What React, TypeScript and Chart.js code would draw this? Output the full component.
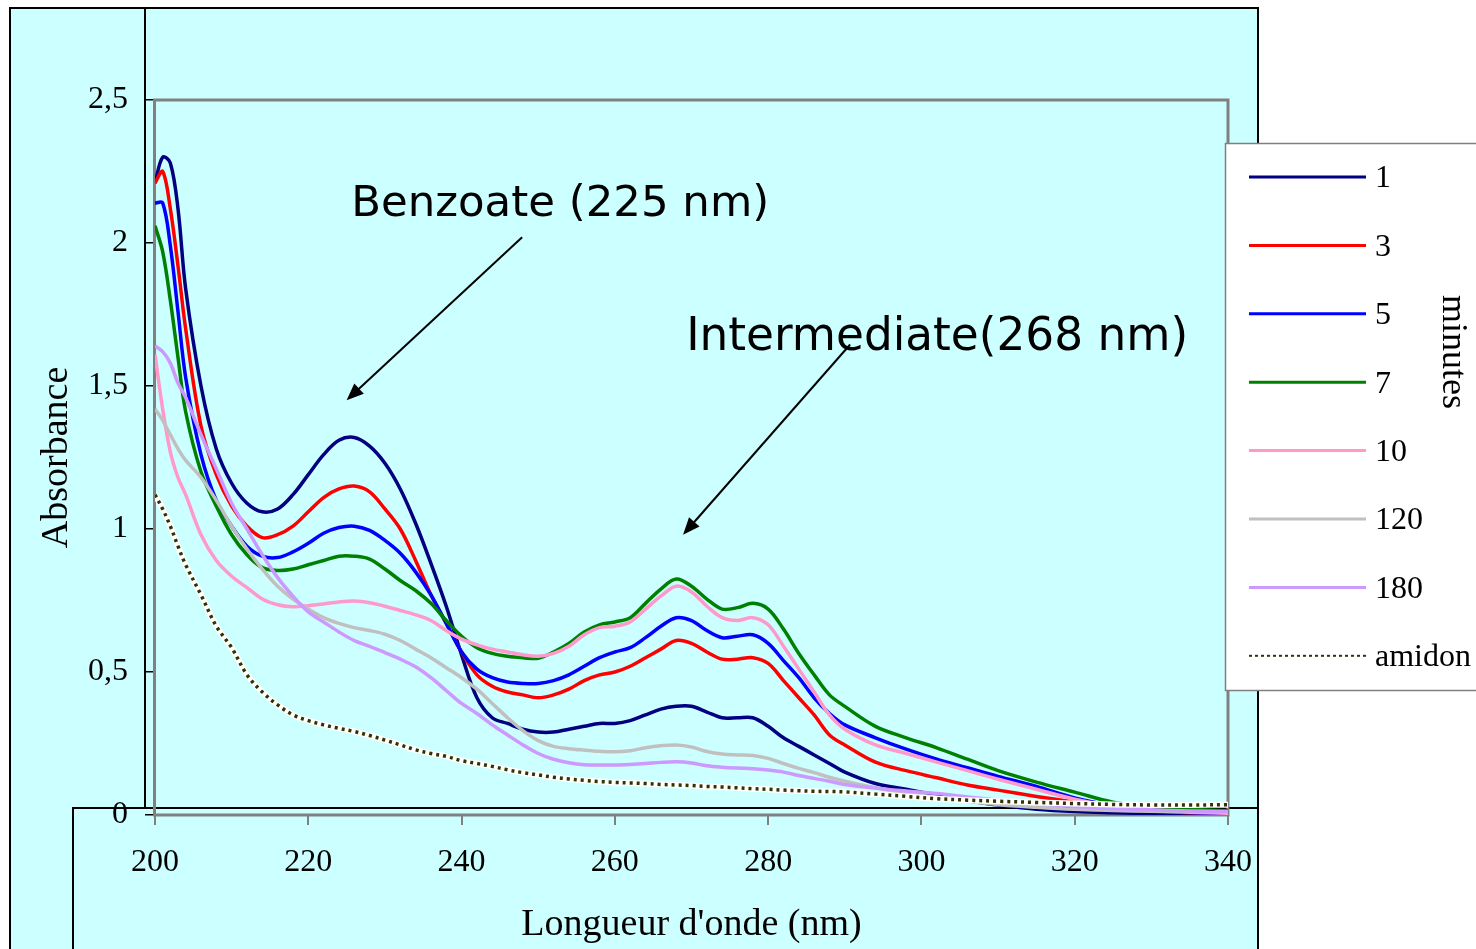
import React, { useEffect, useRef } from 'react';
import { Chart, registerables } from 'chart.js';

Chart.register(...registerables);

// ---------- data ----------
const wavelengths = [200, 201, 202, 203, 204, 206, 208, 210, 212, 214, 216, 218, 220, 222, 224, 226, 228, 230, 232, 234, 236, 238, 240, 242, 244, 246, 248, 250, 252, 254, 256, 258, 260, 262, 264, 266, 268, 270, 272, 274, 276, 278, 280, 282, 284, 286, 288, 290, 294, 298, 302, 306, 310, 315, 320, 325, 330, 335, 340];

const min1 = [2.21, 2.30, 2.28, 2.12, 1.84, 1.50, 1.28, 1.16, 1.09, 1.06, 1.07, 1.12, 1.19, 1.26, 1.31, 1.32, 1.29, 1.23, 1.14, 1.02, 0.88, 0.73, 0.56, 0.41, 0.34, 0.32, 0.30, 0.29, 0.29, 0.30, 0.31, 0.32, 0.32, 0.33, 0.35, 0.37, 0.38, 0.38, 0.36, 0.34, 0.34, 0.34, 0.31, 0.27, 0.24, 0.21, 0.18, 0.15, 0.11, 0.09, 0.07, 0.05, 0.035, 0.02, 0.012, 0.008, 0.005, 0.003, 0.002];
const min3 = [2.21, 2.25, 2.12, 1.92, 1.70, 1.36, 1.19, 1.08, 1.01, 0.97, 0.98, 1.01, 1.06, 1.11, 1.14, 1.15, 1.13, 1.07, 1.00, 0.89, 0.77, 0.67, 0.57, 0.49, 0.45, 0.43, 0.42, 0.41, 0.42, 0.44, 0.47, 0.49, 0.50, 0.52, 0.55, 0.58, 0.61, 0.60, 0.57, 0.545, 0.545, 0.55, 0.53, 0.47, 0.41, 0.35, 0.28, 0.245, 0.185, 0.155, 0.13, 0.105, 0.087, 0.065, 0.045, 0.025, 0.014, 0.008, 0.006];
const min5 = [2.14, 2.14, 1.99, 1.76, 1.53, 1.26, 1.10, 1.01, 0.94, 0.905, 0.90, 0.92, 0.95, 0.985, 1.005, 1.01, 0.995, 0.96, 0.915, 0.85, 0.77, 0.67, 0.57, 0.51, 0.48, 0.465, 0.46, 0.46, 0.47, 0.49, 0.52, 0.55, 0.57, 0.585, 0.62, 0.66, 0.69, 0.68, 0.645, 0.62, 0.625, 0.63, 0.60, 0.54, 0.48, 0.41, 0.355, 0.315, 0.27, 0.23, 0.195, 0.165, 0.135, 0.10, 0.06, 0.033, 0.016, 0.009, 0.005];
const min7 = [2.06, 1.97, 1.80, 1.60, 1.41, 1.20, 1.08, 0.98, 0.91, 0.865, 0.855, 0.86, 0.875, 0.89, 0.905, 0.905, 0.895, 0.86, 0.82, 0.785, 0.74, 0.68, 0.625, 0.585, 0.565, 0.555, 0.55, 0.548, 0.57, 0.60, 0.64, 0.665, 0.675, 0.69, 0.74, 0.79, 0.825, 0.80, 0.755, 0.72, 0.725, 0.74, 0.72, 0.65, 0.565, 0.49, 0.42, 0.38, 0.31, 0.27, 0.235, 0.195, 0.155, 0.115, 0.08, 0.045, 0.03, 0.02, 0.015];
const min10 = [1.61, 1.42, 1.27, 1.18, 1.12, 0.98, 0.89, 0.835, 0.795, 0.755, 0.735, 0.728, 0.732, 0.738, 0.745, 0.748, 0.742, 0.73, 0.715, 0.70, 0.68, 0.645, 0.615, 0.595, 0.58, 0.57, 0.56, 0.555, 0.565, 0.59, 0.63, 0.655, 0.66, 0.675, 0.72, 0.765, 0.80, 0.78, 0.73, 0.69, 0.68, 0.69, 0.665, 0.59, 0.51, 0.43, 0.35, 0.30, 0.245, 0.215, 0.185, 0.155, 0.125, 0.09, 0.055, 0.03, 0.016, 0.01, 0.006];
const min120 = [1.42, 1.38, 1.33, 1.28, 1.24, 1.18, 1.10, 1.01, 0.93, 0.86, 0.80, 0.755, 0.72, 0.69, 0.67, 0.655, 0.645, 0.632, 0.61, 0.58, 0.55, 0.515, 0.48, 0.44, 0.39, 0.34, 0.295, 0.26, 0.24, 0.232, 0.227, 0.223, 0.221, 0.225, 0.235, 0.242, 0.245, 0.238, 0.222, 0.213, 0.21, 0.208, 0.198, 0.18, 0.163, 0.148, 0.132, 0.118, 0.095, 0.076, 0.062, 0.048, 0.036, 0.027, 0.02, 0.016, 0.013, 0.011, 0.01];
const min180 = [1.64, 1.62, 1.58, 1.51, 1.46, 1.33, 1.21, 1.09, 1.00, 0.91, 0.83, 0.765, 0.71, 0.675, 0.64, 0.61, 0.59, 0.568, 0.545, 0.518, 0.48, 0.435, 0.39, 0.355, 0.315, 0.28, 0.245, 0.215, 0.195, 0.183, 0.176, 0.175, 0.175, 0.177, 0.18, 0.184, 0.186, 0.182, 0.172, 0.167, 0.164, 0.162, 0.157, 0.15, 0.138, 0.128, 0.118, 0.107, 0.094, 0.084, 0.075, 0.063, 0.052, 0.04, 0.03, 0.023, 0.018, 0.014, 0.012];
const amidon = [1.12, 1.07, 1.01, 0.94, 0.875, 0.77, 0.66, 0.585, 0.49, 0.43, 0.385, 0.35, 0.33, 0.315, 0.303, 0.292, 0.278, 0.262, 0.245, 0.228, 0.215, 0.205, 0.19, 0.18, 0.17, 0.158, 0.148, 0.14, 0.132, 0.126, 0.121, 0.117, 0.114, 0.112, 0.11, 0.107, 0.105, 0.103, 0.1, 0.098, 0.095, 0.092, 0.09, 0.087, 0.085, 0.083, 0.082, 0.081, 0.073, 0.065, 0.057, 0.052, 0.048, 0.044, 0.04, 0.037, 0.035, 0.035, 0.036];

const seriesLabels = ['1', '3', '5', '7', '10', '120', '180', 'amidon'];
const seriesValues = [min1, min3, min5, min7, min10, min120, min180, amidon];
const seriesColors = ['#000080', '#ff0000', '#0000ff', '#008000', '#ff99cc', '#c0c0c0', '#cc99ff', '#333300'];

const xTicks = [200, 220, 240, 260, 280, 300, 320, 340];
const yTicks = [0, 0.5, 1, 1.5, 2, 2.5];

const xTitle = "Longueur d'onde (nm)";
const yTitle = 'Absorbance';
const legendTitle = 'minutes';

// annotations: text anchor and arrow (start -> tip) in data coordinates
const annotations = [
  { text: 'Benzoate (225 nm)', x: 225.6, y: 2.095, width: 418, from: [247.9, 2.02], to: [225.0, 1.45] },
  { text: 'Intermediate(268 nm)', x: 269.3, y: 1.625, width: 502, from: [290.7, 1.645], to: [268.9, 0.98] },
];

const SERIF = '"Liberation Serif", "Times New Roman", serif';
const ANNOT_FONT = '"DejaVu Sans", sans-serif';

const framePlugin = {
  id: 'frame',
  beforeDraw(chart: any) {
    const ctx = chart.ctx;
    ctx.save();
    ctx.fillStyle = '#ffffff';
    ctx.fillRect(0, 0, chart.width, chart.height);
    ctx.fillStyle = '#ccffff';
    ctx.fillRect(10, 8, 1248, chart.height - 8);
    ctx.strokeStyle = '#000';
    ctx.lineWidth = 2;
    ctx.beginPath();
    ctx.moveTo(10, chart.height);
    ctx.lineTo(10, 8);
    ctx.lineTo(1258, 8);
    ctx.lineTo(1258, chart.height);
    ctx.moveTo(145, 8);
    ctx.lineTo(145, 808);
    ctx.moveTo(73, chart.height);
    ctx.lineTo(73, 808);
    ctx.lineTo(1258, 808);
    ctx.stroke();
    ctx.restore();
  },
  beforeDatasetsDraw(chart: any) {
    const { ctx, chartArea } = chart;
    ctx.save();
    ctx.strokeStyle = '#808080';
    ctx.lineWidth = 3;
    ctx.strokeRect(chartArea.left - 0.5, chartArea.top, chartArea.right - chartArea.left + 0.5, chartArea.bottom - chartArea.top);
    ctx.restore();
  },
  afterDraw(chart: any) {
    const { ctx, scales } = chart;
    const xs = scales.x;
    const ys = scales.y;
    ctx.save();
    // annotations
    for (const a of annotations) {
      ctx.font = `40px ${ANNOT_FONT}`;
      const w = ctx.measureText(a.text).width;
      const size = (40 * a.width) / w;
      ctx.font = `${size}px ${ANNOT_FONT}`;
      ctx.fillStyle = '#000';
      ctx.textAlign = 'left';
      ctx.textBaseline = 'alphabetic';
      ctx.fillText(a.text, xs.getPixelForValue(a.x), ys.getPixelForValue(a.y));
      const x1 = xs.getPixelForValue(a.from[0]);
      const y1 = ys.getPixelForValue(a.from[1]);
      const x2 = xs.getPixelForValue(a.to[0]);
      const y2 = ys.getPixelForValue(a.to[1]);
      const ang = Math.atan2(y2 - y1, x2 - x1);
      const hl = 17;
      const hw = 7;
      ctx.strokeStyle = '#000';
      ctx.lineWidth = 2;
      ctx.beginPath();
      ctx.moveTo(x1, y1);
      ctx.lineTo(x2 - Math.cos(ang) * hl * 0.8, y2 - Math.sin(ang) * hl * 0.8);
      ctx.stroke();
      ctx.beginPath();
      ctx.moveTo(x2, y2);
      ctx.lineTo(x2 - Math.cos(ang) * hl - Math.sin(ang) * hw, y2 - Math.sin(ang) * hl + Math.cos(ang) * hw);
      ctx.lineTo(x2 - Math.cos(ang) * hl + Math.sin(ang) * hw, y2 - Math.sin(ang) * hl - Math.cos(ang) * hw);
      ctx.closePath();
      ctx.fill();
    }
    // legend
    const lx = 1225;
    const ly = 143;
    ctx.fillStyle = '#ffffff';
    ctx.fillRect(lx, ly, chart.width - lx + 5, 547);
    ctx.strokeStyle = '#808080';
    ctx.lineWidth = 1.5;
    ctx.strokeRect(lx + 0.5, ly + 0.5, chart.width - lx + 5, 547);
    const items = chart.data.datasets.filter((d: any) => !d.hideInLegend);
    ctx.font = `32px ${SERIF}`;
    ctx.textBaseline = 'middle';
    ctx.textAlign = 'left';
    items.forEach((d: any, i: number) => {
      const y = 177 + i * 68.4;
      ctx.strokeStyle = d.borderColor;
      ctx.lineWidth = d.borderDash ? 2 : 3;
      ctx.setLineDash(d.borderDash ? [3, 3] : []);
      ctx.beginPath();
      ctx.moveTo(1249, y);
      ctx.lineTo(1366, y);
      ctx.stroke();
      ctx.setLineDash([]);
      ctx.fillStyle = '#000';
      ctx.fillText(d.label, 1375, y + 2);
    });
    ctx.translate(1452, 352);
    ctx.rotate(Math.PI / 2);
    ctx.font = `36px ${SERIF}`;
    ctx.textAlign = 'center';
    ctx.textBaseline = 'middle';
    ctx.fillText(legendTitle, 0, 0);
    ctx.restore();
  },
};

const App = () => {
  const ref = useRef<HTMLCanvasElement>(null);
  useEffect(() => {
    const canvas = ref.current;
    if (!canvas) return;
    const toPoints = (vals: number[]) => wavelengths.map((x, j) => ({ x, y: vals[j] }));
    const datasets: any[] = [];
    seriesLabels.forEach((label, i) => {
      const isAmidon = label === 'amidon';
      if (isAmidon) {
        datasets.push({
          label: 'amidon-back',
          hideInLegend: true,
          data: toPoints(seriesValues[i]),
          borderColor: '#ffffff',
          borderWidth: 6,
          pointRadius: 0,
          tension: 0.35,
          order: 20 - i + 0.5,
        });
      }
      datasets.push({
        label,
        data: toPoints(seriesValues[i]),
        borderColor: seriesColors[i],
        borderWidth: isAmidon ? 3.5 : 3.5,
        borderDash: isAmidon ? [3, 4] : undefined,
        pointRadius: 0,
        tension: 0.35,
        order: 20 - i,
      });
    });
    const chart = new Chart(canvas, {
      type: 'line',
      data: { datasets },
      plugins: [framePlugin],
      options: {
        responsive: false,
        animation: false,
        devicePixelRatio: 1,
        layout: { padding: { left: 0, right: 248, top: 100, bottom: 0 } },
        plugins: { legend: { display: false }, tooltip: { enabled: false } },
        scales: {
          x: {
            type: 'linear',
            min: xTicks[0],
            max: xTicks[xTicks.length - 1],
            afterBuildTicks: (s: any) => { s.ticks = xTicks.map((v) => ({ value: v })); },
            afterFit: (s: any) => { s.height = 134; },
            ticks: { color: '#000', font: { family: SERIF, size: 32 }, padding: 18, maxRotation: 0, autoSkip: false },
            grid: { drawOnChartArea: false, tickLength: 10, color: '#808080', lineWidth: 2 },
            border: { display: false },
            title: { display: true, text: xTitle, color: '#000', font: { family: SERIF, size: 38 }, padding: { top: 0, bottom: 1 } },
          },
          y: {
            type: 'linear',
            min: yTicks[0],
            max: yTicks[yTicks.length - 1],
            afterBuildTicks: (s: any) => { s.ticks = yTicks.map((v) => ({ value: v })); },
            afterFit: (s: any) => { s.width = 155; },
            ticks: { color: '#000', font: { family: SERIF, size: 32 }, padding: 17, callback: (v: any) => String(v).replace('.', ',') },
            grid: { drawOnChartArea: false, tickLength: 10, color: '#000', lineWidth: 1.5 },
            border: { display: false },
            title: { display: true, text: yTitle, color: '#000', font: { family: SERIF, size: 38 }, padding: { top: 34, bottom: 0 } },
          },
        },
      } as any,
    });
    return () => chart.destroy();
  }, []);
  return (
    <div style={{ position: 'absolute', left: 0, top: 0, width: 1476, height: 949, overflow: 'hidden' }}>
      <canvas ref={ref} width={1476} height={949} style={{ display: 'block', width: 1476, height: 949 }} />
    </div>
  );
};

export default App;
